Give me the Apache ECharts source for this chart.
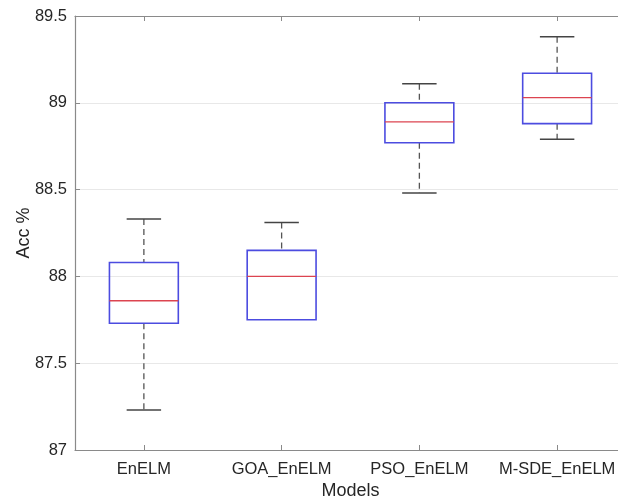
<!DOCTYPE html>
<html>
<head>
<meta charset="utf-8">
<script src="https://cdn.jsdelivr.net/npm/echarts@6/dist/echarts.min.js"></script>
<style>
  html, body { margin: 0; padding: 0; background: #fff; }
  #main { width: 618px; height: 500px; }
</style>
</head>
<body>
<div id="main"></div>
<script>
// 模型名称
var categories = ['EnELM', 'GOA_EnELM', 'PSO_EnELM', 'M-SDE_EnELM'];
// 箱线图数据: 下须, 下四分位, 中位数, 上四分位, 上须
var minVals = [87.23, 87.75, 88.48, 88.79];
var q1Vals  = [87.73, 87.75, 88.77, 88.88];
var medVals = [87.86, 88.00, 88.89, 89.03];
var q3Vals  = [88.08, 88.15, 89.00, 89.17];
var maxVals = [88.33, 88.31, 89.11, 89.38];
// Y轴刻度
var yTicks = [87, 87.5, 88, 88.5, 89, 89.5];

var boxData = categories.map(function (c, i) {
    return [i, minVals[i], q1Vals[i], medVals[i], q3Vals[i], maxVals[i]];
});

var font = 'Liberation Sans, Arial, sans-serif';
var axisColor = '#8a8a8a';

function renderBox(params, api) {
    var idx = api.value(0);
    var band = api.size([1, 0])[0];
    var pMin = api.coord([idx, api.value(1)]);
    var pQ1 = api.coord([idx, api.value(2)]);
    var pMed = api.coord([idx, api.value(3)]);
    var pQ3 = api.coord([idx, api.value(4)]);
    var pMax = api.coord([idx, api.value(5)]);
    var cx = pMed[0];
    var bw = band * 0.5;
    var cw = band * 0.25;
    var dash = { stroke: '#555', lineWidth: 1.3, lineDash: [6, 4] };
    var cap = { stroke: '#444', lineWidth: 1.5 };
    var children = [];
    // 上须
    if (pMax[1] < pQ3[1]) {
        children.push({ type: 'line', shape: { x1: cx, y1: pMax[1], x2: cx, y2: pQ3[1] }, style: dash });
        children.push({ type: 'line', shape: { x1: cx - cw / 2, y1: pMax[1], x2: cx + cw / 2, y2: pMax[1] }, style: cap });
    }
    // 下须
    if (pMin[1] > pQ1[1]) {
        children.push({ type: 'line', shape: { x1: cx, y1: pQ1[1], x2: cx, y2: pMin[1] }, style: dash });
        children.push({ type: 'line', shape: { x1: cx - cw / 2, y1: pMin[1], x2: cx + cw / 2, y2: pMin[1] }, style: cap });
    }
    children.push({
        type: 'rect',
        shape: { x: cx - bw / 2, y: pQ3[1], width: bw, height: pQ1[1] - pQ3[1] },
        style: { fill: 'none', stroke: '#4c4ce0', lineWidth: 1.6 }
    });
    children.push({ type: 'line', shape: { x1: cx - bw / 2, y1: pMed[1], x2: cx + bw / 2, y2: pMed[1] }, style: { stroke: '#dc4450', lineWidth: 1.4 } });
    return { type: 'group', children: children };
}

var myChart = echarts.init(document.getElementById('main'));

myChart.setOption({
    backgroundColor: '#fff',
    animation: false,
    grid: {
        left: 75,
        right: -8,
        top: 16,
        bottom: 50,
        containLabel: false,
        outerBoundsMode: 'none'
    },
    xAxis: [{
        type: 'category',
        data: categories,
        position: 'bottom',
        name: 'Models',
        nameLocation: 'middle',
        nameGap: 32,
        nameMoveOverlap: false,
        nameTextStyle: { color: '#262626', fontSize: 18, fontFamily: font },
        axisLine: { lineStyle: { color: axisColor, width: 1.2 } },
        axisTick: { show: true, inside: true, length: 5, interval: 0, alignWithLabel: true, lineStyle: { color: axisColor } },
        axisLabel: { color: '#262626', fontSize: 16.5, fontFamily: font, margin: 11, interval: 0, hideOverlap: false },
        splitLine: { show: false }
    }, {
        type: 'category',
        data: categories,
        position: 'top',
        axisLine: { lineStyle: { color: axisColor, width: 1.2 } },
        axisTick: { show: true, inside: true, length: 5, interval: 0, alignWithLabel: true, lineStyle: { color: axisColor } },
        axisLabel: { show: false },
        splitLine: { show: false }
    }],
    yAxis: {
        type: 'value',
        min: yTicks[0],
        max: yTicks[yTicks.length - 1],
        interval: 0.5,
        name: 'Acc %',
        nameLocation: 'middle',
        nameGap: 42,
        nameMoveOverlap: false,
        nameTextStyle: { color: '#262626', fontSize: 18, fontFamily: font },
        axisLine: { show: true, lineStyle: { color: axisColor, width: 1.2 } },
        axisTick: { show: true, inside: true, length: 5, lineStyle: { color: axisColor } },
        axisLabel: { color: '#262626', fontSize: 16.5, fontFamily: font, margin: 8 },
        splitLine: { show: true, lineStyle: { color: '#e8e8e8', width: 1 } }
    },
    series: [{
        type: 'custom',
        xAxisIndex: 0,
        renderItem: renderBox,
        encode: { x: 0, y: [1, 2, 3, 4, 5] },
        data: boxData,
        clip: false
    }]
});
</script>
</body>
</html>
